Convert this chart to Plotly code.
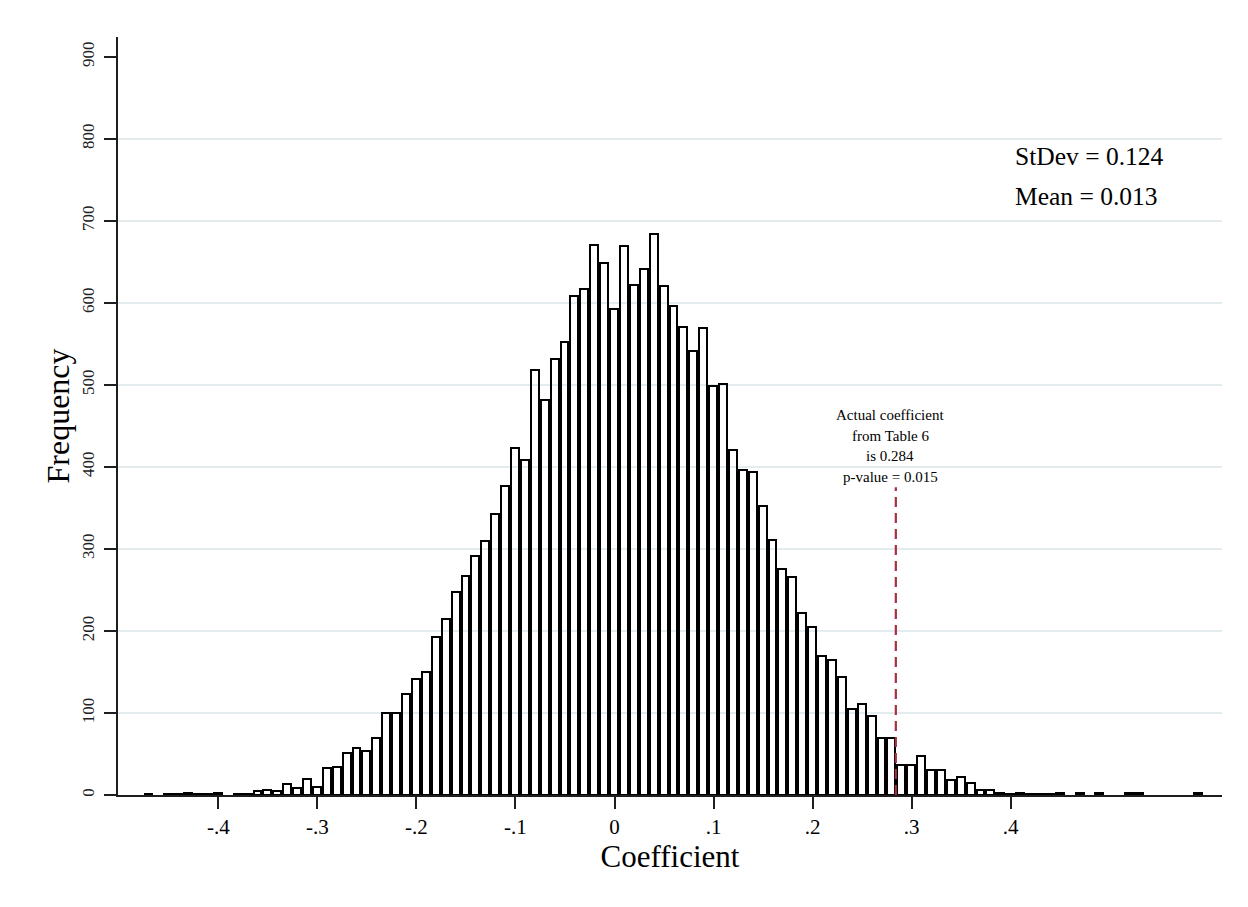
import plotly.graph_objects as go

# ---------------- data ----------------
bin_start = -0.4755          # left edge of first bin
bin_width = 0.01
counts = [
    1, 0, 1, 1, 2, 1, 1, 3, 0, 1,
    1, 5, 6, 5, 14, 9, 20, 10, 33, 34,
    51, 57, 54, 69, 100, 100, 123, 141, 150, 192,
    215, 247, 267, 291, 310, 343, 377, 423, 408, 518,
    481, 532, 552, 608, 617, 671, 648, 592, 669, 622,
    641, 684, 621, 596, 570, 541, 569, 499, 501, 421,
    396, 394, 352, 311, 275, 266, 222, 205, 169, 165,
    144, 105, 111, 96, 69, 70, 36, 36, 48, 31,
    30, 18, 22, 15, 6, 6, 3, 1, 3, 1,
    1, 1, 2, 0, 2, 0, 2, 0, 0, 2,
    2, 0, 0, 0, 0, 0, 2,
]
bin_centers = [bin_start + bin_width * (i + 0.5) for i in range(len(counts))]

x_tick_vals = [-0.4, -0.3, -0.2, -0.1, 0.0, 0.1, 0.2, 0.3, 0.4]
x_tick_text = ["-.4", "-.3", "-.2", "-.1", "0", ".1", ".2", ".3", ".4"]
y_tick_vals = [0, 100, 200, 300, 400, 500, 600, 700, 800, 900]
y_grid_vals = [100, 200, 300, 400, 500, 600, 700, 800]

stdev = 0.124
mean = 0.013
actual_coef = 0.284
p_value = 0.015
ref_line_y = [0, 375]

# empty bins are not drawn (only the axis shows there)
bar_heights = [c if c > 0 else None for c in counts]

# ---------------- style ----------------
SERIF = "Liberation Serif, Times New Roman, serif"
AXIS_COLOR = "#1e1e1e"
GRID_COLOR = "#e3edf0"
RED = "#a3323f"

fig = go.Figure()

fig.add_trace(go.Bar(
    x=bin_centers,
    y=bar_heights,
    width=bin_width * 0.8,
    marker=dict(color="rgba(255,255,255,0)", line=dict(color="black", width=2)),
    showlegend=False,
    hoverinfo="x+y",
))

fig.add_trace(go.Scatter(
    x=[actual_coef, actual_coef],
    y=ref_line_y,
    mode="lines",
    line=dict(color=RED, width=2.2, dash="10px,6px"),
    showlegend=False,
    hoverinfo="skip",
))

fig.update_layout(
    width=1248,
    height=907,
    autosize=False,
    margin=dict(l=110, r=34, t=29, b=120),
    paper_bgcolor="white",
    plot_bgcolor="white",
    font=dict(family=SERIF, color="black"),
    bargap=0,
    xaxis=dict(
        range=[-0.5013, 0.6133],
        tickvals=x_tick_vals,
        ticktext=x_tick_text,
        ticks="outside",
        ticklen=12,
        tickwidth=1.5,
        tickcolor=AXIS_COLOR,
        showline=True,
        linecolor=AXIS_COLOR,
        linewidth=1.5,
        showgrid=False,
        zeroline=False,
        tickfont=dict(family=SERIF, size=21, color="black"),
        title=dict(text="Coefficient", font=dict(family=SERIF, size=31, color="black"), standoff=4),
    ),
    yaxis=dict(
        range=[0, 924],
        tickvals=y_tick_vals,
        ticks="outside",
        ticklen=12,
        tickwidth=1.5,
        tickcolor=AXIS_COLOR,
        tickangle=-90,
        ticklabelstandoff=3,
        showline=True,
        linecolor=AXIS_COLOR,
        linewidth=1.5,
        showgrid=False,
        zeroline=False,
        minor=dict(tickvals=y_grid_vals, showgrid=True, gridcolor=GRID_COLOR, gridwidth=1.5),
        tickfont=dict(family=SERIF, size=17, color="#222"),
        title=dict(text="Frequency", font=dict(family=SERIF, size=32, color="black"), standoff=0),
    ),
    annotations=[
        dict(xref="paper", yref="paper", x=0.8107, y=0.843, xanchor="left", yanchor="middle",
             text=f"StDev = {stdev:.3f}", showarrow=False, font=dict(family=SERIF, size=25.5, color="black")),
        dict(xref="paper", yref="paper", x=0.8107, y=0.790, xanchor="left", yanchor="middle",
             text=f"Mean = {mean:.3f}", showarrow=False, font=dict(family=SERIF, size=25.5, color="black")),
        dict(xref="paper", yref="paper", x=0.6997, y=0.5013, xanchor="center", yanchor="middle",
             text="Actual coefficient", showarrow=False, font=dict(family=SERIF, size=15, color="black")),
        dict(xref="paper", yref="paper", x=0.6997, y=0.4736, xanchor="center", yanchor="middle",
             text="from Table 6", showarrow=False, font=dict(family=SERIF, size=15, color="black")),
        dict(xref="paper", yref="paper", x=0.6997, y=0.4472, xanchor="center", yanchor="middle",
             text=f"is {actual_coef:.3f}", showarrow=False, font=dict(family=SERIF, size=15, color="black")),
        dict(xref="paper", yref="paper", x=0.6997, y=0.4195, xanchor="center", yanchor="middle",
             text=f"p-value = {p_value:.3f}", showarrow=False, font=dict(family=SERIF, size=15, color="black")),
    ],
)

fig.write_html("out.html")
